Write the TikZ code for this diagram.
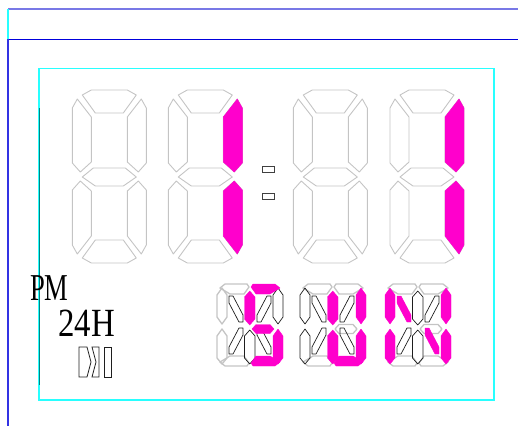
\documentclass[tikz,border=0pt]{standalone}
\usepackage{fontspec}
\usepackage{graphicx}
\setmainfont{Liberation Serif}
\definecolor{segray}{RGB}{196,196,196}
\definecolor{lcdpink}{RGB}{255,0,204}
\definecolor{segblack}{RGB}{30,30,30}
\definecolor{framecyan}{RGB}{40,255,255}
\definecolor{topline}{RGB}{120,120,230}
\definecolor{frameblue}{RGB}{0,0,220}
\definecolor{frameteal}{RGB}{0,130,130}
\tikzset{
  offseg/.style={draw=segray, line width=0.9, line join=round},
  onseg/.style={fill=lcdpink, draw=lcdpink, line width=0.4, line join=round},
  soff/.style={draw=segray, line width=1.3, line join=round},
  sblk/.style={draw=segblack, line width=0.7, line join=round},
  colonbox/.style={draw=black!75, line width=0.8},
  lbl/.style={anchor=base west, inner sep=0, outer sep=0},
}
% big seven-segment digit (74 x 173)
\def\BT{(10,5)--(19,0)--(55,0)--(64,5)--(51,23)--(23,23)--cycle}
\def\BUL{(5,9)--(0,18)--(0,73)--(8,82)--(19,72)--(19,27)--cycle}
\def\BUR{(69,9)--(74,18)--(74,73)--(66,82)--(55,72)--(55,27)--cycle}
\def\BM{(10,87)--(21,78)--(53,78)--(64,87)--(51,96)--(23,96)--cycle}
\def\BLL{(5,164)--(0,155)--(0,100)--(8,91)--(19,101)--(19,146)--cycle}
\def\BLR{(69,164)--(74,155)--(74,100)--(66,91)--(55,101)--(55,146)--cycle}
\def\BB{(10,168)--(19,173)--(55,173)--(64,168)--(51,150)--(23,150)--cycle}
% small sixteen-segment group (66 x 82)
\def\sTL{(3,4)--(8,0)--(30,0)--(32,3)--(27,10)--(13,10)--cycle}
\def\sTR{(63,4)--(58,0)--(36,0)--(34,3)--(39,10)--(53,10)--cycle}
\def\sLU{(0,11)--(5,4)--(10,11)--(10,33)--(5,40)--(0,33)--cycle}
\def\sLL{(0,52)--(5,45)--(10,52)--(10,74)--(5,80)--(0,74)--cycle}
\def\sRU{(56,11)--(61,4)--(66,11)--(66,33)--(61,40)--(56,33)--cycle}
\def\sRL{(56,52)--(61,45)--(66,52)--(66,74)--(61,80)--(56,74)--cycle}
\def\sCU{(27.5,13)--(32.75,7)--(38,13)--(38,35)--(32.75,41)--(27.5,35)--cycle}
\def\sCL{(27.5,52)--(32.75,46)--(38,52)--(38,74)--(32.75,80)--(27.5,74)--cycle}
\def\sMR{(35,45)--(39,40.5)--(53,40.5)--(57,45)--(53,49.5)--(39,49.5)--cycle}
\def\sBL{(3,78)--(8,82)--(30,82)--(32,79)--(27,72)--(13,72)--cycle}
\def\sBR{(63,78)--(58,82)--(36,82)--(34,79)--(39,72)--(53,72)--cycle}
\def\sDa{(12,12)--(16,12)--(26,31)--(26,38)--(22,38)--(12,19)--cycle}
\def\sDb{(54,12)--(50,12)--(40,31)--(40,38)--(44,38)--(54,19)--cycle}
\def\sDc{(12,70)--(16,70)--(26,51)--(26,44)--(22,44)--(12,63)--cycle}
\def\sDd{(54,70)--(50,70)--(40,51)--(40,44)--(44,44)--(54,63)--cycle}
\begin{document}
\begin{tikzpicture}[x=1pt,y=-1pt]
\useasboundingbox (0,0) rectangle (518,426);
% frame lines
\draw[topline, line width=1.6] (8,9) -- (518,9);
\draw[framecyan, line width=1.2] (8,9) -- (8,39);
\draw[frameblue, line width=1] (8,39.3) -- (518,39.3);
\draw[frameblue!80!white, line width=1.1] (8,39.3) -- (8,426);
\draw[framecyan, line width=1.1] (39,68.3) rectangle (494,400);
\draw[frameteal, line width=1] (39,108) -- (39,385);
% big digits
\foreach \dx in {72.3,168.3,293.3,390}{
  \begin{scope}[shift={(\dx,90)}]
    \draw[offseg] \BT; \draw[offseg] \BUL; \draw[offseg] \BUR; \draw[offseg] \BM;
    \draw[offseg] \BLL; \draw[offseg] \BLR; \draw[offseg] \BB;
  \end{scope}
}
\foreach \dx in {168.3,390}{
  \begin{scope}[shift={(\dx,90)}]
    \filldraw[onseg] \BUR; \filldraw[onseg] \BLR;
  \end{scope}
}
% colon
\draw[colonbox] (262,166.5) rectangle (274,172.5);
\draw[colonbox] (262,193.5) rectangle (274,199.5);
% small group 1
\begin{scope}[shift={(217,284)}]
  \draw[soff] \sTL; \draw[soff] \sLU; \draw[soff] \sLL; \draw[soff] \sBL;
  \draw[sblk] \sDa; \draw[sblk] \sDb; \draw[sblk] \sDc; \draw[sblk] \sDd;
  \draw[sblk] \sCL; \draw[sblk] \sRU;
  \filldraw[onseg] \sTR; \filldraw[onseg] \sCU; \filldraw[onseg] \sMR;
  \filldraw[onseg] \sRL; \filldraw[onseg] \sBR;
\end{scope}
% small group 2
\begin{scope}[shift={(300,284)}]
  \draw[soff] \sTL; \draw[soff] \sTR; \draw[soff] \sMR; \draw[soff] \sBL;
  \draw[sblk] \sLU; \draw[sblk] \sLL;
  \draw[sblk] \sDa; \draw[sblk] \sDb; \draw[sblk] \sDc; \draw[sblk] \sDd;
  \filldraw[onseg] \sCU; \filldraw[onseg] \sCL; \filldraw[onseg] \sRU;
  \filldraw[onseg] \sRL; \filldraw[onseg] \sBR;
\end{scope}
% small group 3
\begin{scope}[shift={(385,284)}]
  \draw[soff] \sTL; \draw[soff] \sTR; \draw[soff] \sMR; \draw[soff] \sBL; \draw[soff] \sBR;
  \draw[sblk] \sDb; \draw[sblk] \sDc; \draw[sblk] \sCU; \draw[sblk] \sCL;
  \filldraw[onseg] \sLU; \filldraw[onseg] \sLL; \filldraw[onseg] \sDa;
  \filldraw[onseg] \sDd; \filldraw[onseg] \sRU; \filldraw[onseg] \sRL;
\end{scope}
% labels
\node[lbl] (pm) at (30,300) {\scalebox{0.7}[1]{\fontsize{38}{38}\selectfont PM}};
\node[lbl] (h24) at (58.5,336) {\scalebox{0.82}[1]{\fontsize{40}{40}\selectfont 24H}};
% icon
\draw[segblack, line width=0.8, line join=miter] (79,347) -- (87,347) -- (91,362) -- (87,377) -- (79,377) -- cycle;
\draw[segblack, line width=0.8] (92,347) -- (99,347) -- (99,377) -- (92,377) -- (96,362) -- cycle;
\draw[segblack, line width=0.8] (104,347) rectangle (111,377);
\end{tikzpicture}
\end{document}
